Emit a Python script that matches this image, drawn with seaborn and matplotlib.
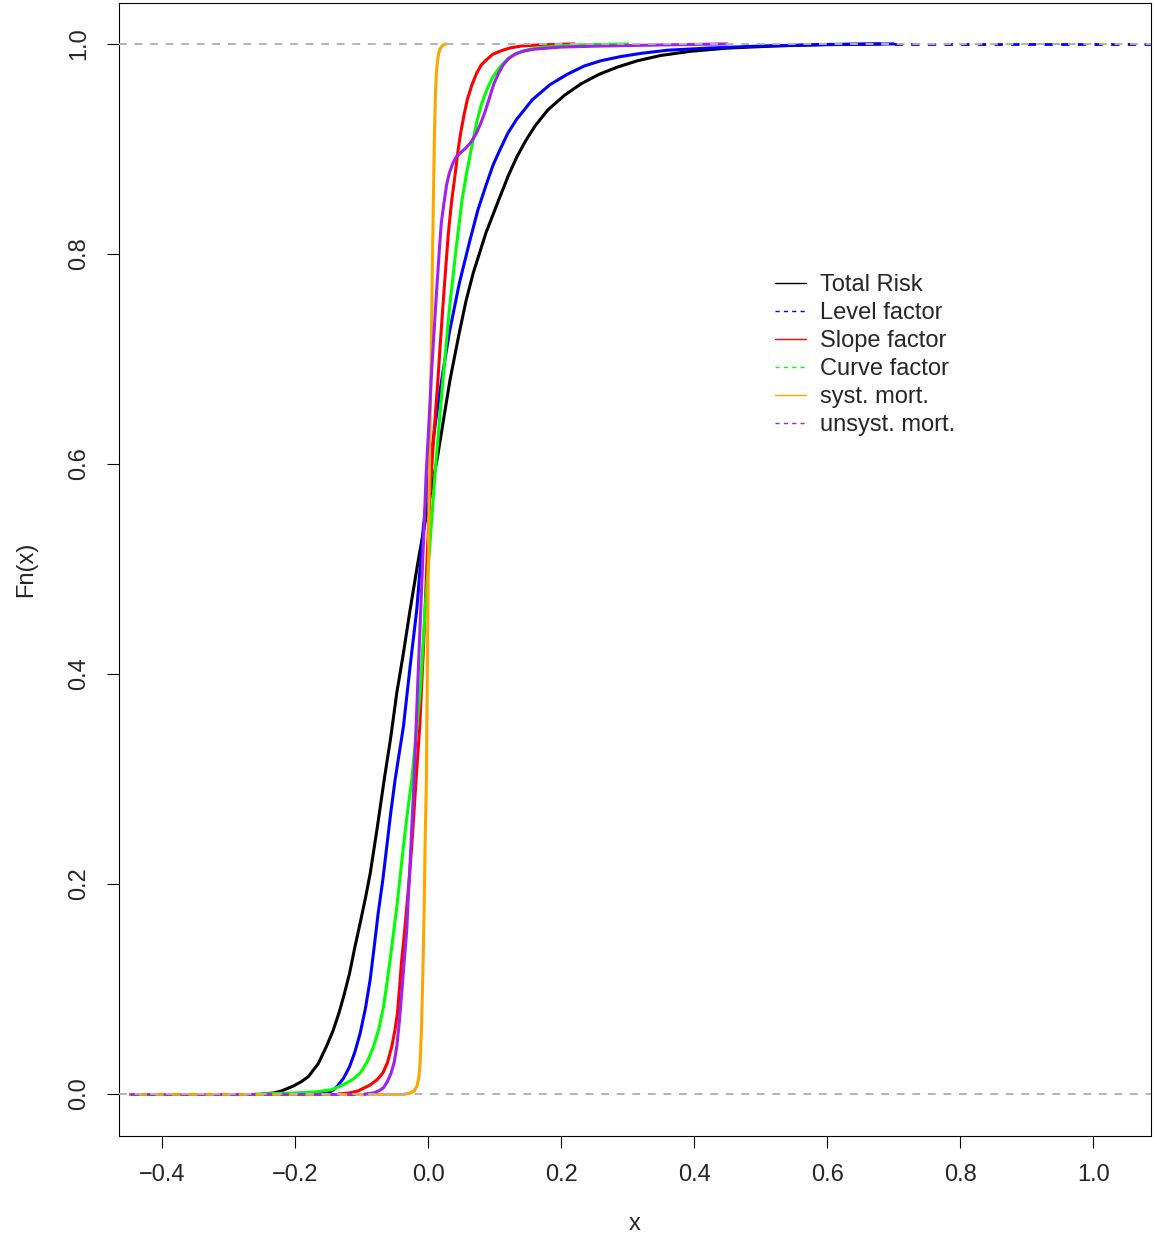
import numpy as np
import pandas as pd
import seaborn as sns
import matplotlib.pyplot as plt
from matplotlib.lines import Line2D

series = ["Total Risk", "Level factor", "Slope factor", "Curve factor",
          "syst. mort.", "unsyst. mort."]

total_F = [0, 0, 0.001, 0.003, 0.0076, 0.012, 0.0165, 0.029, 0.045, 0.06, 0.077,
           0.095, 0.115, 0.14, 0.163, 0.187, 0.21, 0.251, 0.299, 0.34, 0.382, 0.42,
           0.461, 0.509, 0.553, 0.604, 0.645, 0.68, 0.725, 0.755, 0.782, 0.82,
           0.851, 0.875, 0.893, 0.908, 0.922, 0.937, 0.951, 0.962, 0.971, 0.978,
           0.984, 0.989, 0.993, 0.996, 0.998, 0.9995, 1]
total_x = [-0.448, -0.25, -0.232, -0.220, -0.2025, -0.190, -0.180, -0.165, -0.153,
           -0.143, -0.134, -0.126, -0.118, -0.110, -0.102, -0.094, -0.087, -0.077,
           -0.066, -0.056, -0.047, -0.037, -0.027, -0.0145, -0.002, 0.0135, 0.024,
           0.033, 0.047, 0.057, 0.068, 0.087, 0.106, 0.121, 0.134, 0.147, 0.161,
           0.180, 0.205, 0.230, 0.257, 0.285, 0.315, 0.350, 0.395, 0.45, 0.52, 0.6,
           0.68]

level_F = [0, 0, 0.001, 0.004, 0.007, 0.015, 0.026, 0.04, 0.058, 0.082, 0.109,
           0.14, 0.172, 0.204, 0.236, 0.268, 0.299, 0.35, 0.407, 0.461, 0.50, 0.54,
           0.6, 0.655, 0.69, 0.725, 0.772, 0.813, 0.842, 0.867, 0.885, 0.899,
           0.915, 0.928, 0.947, 0.961, 0.971, 0.979, 0.984, 0.988, 0.991, 0.994,
           0.996, 0.998, 0.9993, 1, 1]
level_x = [-0.448, -0.165, -0.150, -0.142, -0.137, -0.127, -0.118, -0.110, -0.102,
           -0.094, -0.087, -0.081, -0.075, -0.068, -0.062, -0.056, -0.0496, -0.037,
           -0.027, -0.017, -0.012, -0.007, 0.003, 0.0145, 0.023, 0.032, 0.047,
           0.063, 0.075, 0.088, 0.098, 0.108, 0.12, 0.133, 0.157, 0.183, 0.209,
           0.235, 0.26, 0.29, 0.32, 0.36, 0.42, 0.5, 0.6, 0.7, 1.09]

slope_F = [0, 0, 0.001, 0.003, 0.0086, 0.014, 0.020, 0.03, 0.045, 0.06, 0.077,
           0.10, 0.125, 0.15, 0.178, 0.207, 0.236, 0.299, 0.35, 0.43, 0.509, 0.572,
           0.63, 0.677, 0.72, 0.756, 0.79, 0.82, 0.851, 0.877, 0.898, 0.915, 0.932,
           0.947, 0.961, 0.972, 0.98, 0.985, 0.990, 0.993, 0.996, 0.998, 0.999, 1]
slope_x = [-0.448, -0.135, -0.118, -0.105, -0.087, -0.076, -0.068, -0.061, -0.0546,
           -0.050, -0.046, -0.043, -0.040, -0.036, -0.032, -0.028, -0.0245, -0.018,
           -0.0125, -0.0065, -0.0015, 0.003, 0.009, 0.0145, 0.019, 0.023, 0.027,
           0.0306, 0.0356, 0.041, 0.045, 0.049, 0.054, 0.059, 0.066, 0.073, 0.08,
           0.088, 0.097, 0.108, 0.122, 0.14, 0.165, 0.22]

curve_F = [0, 0, 0.001, 0.002, 0.004, 0.009, 0.014, 0.020, 0.03, 0.045, 0.062,
           0.083, 0.105, 0.128, 0.153, 0.178, 0.207, 0.236, 0.268, 0.299, 0.382,
           0.461, 0.525, 0.591, 0.64, 0.677, 0.747, 0.804, 0.83, 0.851, 0.877, 0.9,
           0.925, 0.942, 0.956, 0.968, 0.978, 0.986, 0.991, 0.995, 0.997, 0.999, 1]
curve_x = [-0.448, -0.26, -0.2, -0.17, -0.145, -0.127, -0.113, -0.102, -0.092,
           -0.082, -0.074, -0.067, -0.062, -0.057, -0.052, -0.047, -0.042, -0.037,
           -0.031, -0.0245, -0.012, -0.0045, 0.003, 0.0105, 0.017, 0.022, 0.032,
           0.042, 0.047, 0.051, 0.058, 0.065, 0.073, 0.08, 0.088, 0.097, 0.108,
           0.12, 0.133, 0.153, 0.175, 0.22, 0.3]

syst_F = [0, 0, 0.0007, 0.003, 0.007, 0.015, 0.029, 0.06, 0.109, 0.17, 0.236,
          0.299, 0.445, 0.572, 0.693, 0.788, 0.851, 0.909, 0.95, 0.972, 0.985,
          0.991, 0.995, 0.998, 0.9995, 1]
syst_x = [-0.448, -0.036, -0.028, -0.021, -0.017, -0.014, -0.012, -0.010, -0.008,
          -0.006, -0.0045, -0.0025, -0.0005, 0.0015, 0.0045, 0.0065, 0.008, 0.0095,
          0.011, 0.0125, 0.0145, 0.016, 0.018, 0.021, 0.024, 0.028]

unsyst_F = [0, 0, 0.001, 0.003, 0.006, 0.012, 0.020, 0.03, 0.045, 0.07, 0.093,
            0.125, 0.156, 0.19, 0.22, 0.26, 0.299, 0.382, 0.461, 0.540, 0.588,
            0.629, 0.69, 0.756, 0.804, 0.83, 0.851, 0.866, 0.877, 0.886, 0.893,
            0.897, 0.901, 0.906, 0.914, 0.924, 0.936, 0.95, 0.962, 0.972, 0.98,
            0.986, 0.99, 0.993, 0.995, 0.997, 0.998, 0.999, 1]
unsyst_x = [-0.448, -0.095, -0.082, -0.074, -0.067, -0.061, -0.0555, -0.051,
            -0.047, -0.043, -0.040, -0.036, -0.032, -0.0295, -0.027, -0.024, -0.021,
            -0.016, -0.011, -0.006, -0.003, 0.0005, 0.0055, 0.012, 0.017, 0.020,
            0.0245, 0.028, 0.032, 0.037, 0.043, 0.050, 0.057, 0.064, 0.072, 0.079,
            0.086, 0.093, 0.099, 0.106, 0.113, 0.121, 0.13, 0.142, 0.16, 0.2, 0.26,
            0.35, 0.45]

xs = [total_x, level_x, slope_x, curve_x, syst_x, unsyst_x]
Fs = [total_F, level_F, slope_F, curve_F, syst_F, unsyst_F]
colors = ["black", "#0000FF", "#FF0000", "#00FF00", "#FFA500", "#A020F0"]
dashed = [False, True, False, True, False, True]

sns.set_style("ticks")
plt.rcParams["font.family"] = ["Liberation Sans", "DejaVu Sans"]
plt.rcParams["font.size"] = 17

fig = plt.figure(figsize=(11.54, 12.36), dpi=100)
ax = fig.add_axes([0.1031, 0.0809, 0.8943, 0.9167])

for i in range(len(series)):
    df = pd.DataFrame({"x": xs[i], "Fn": Fs[i]})
    ls = (0, (3, 3)) if dashed[i] else "-"
    # flat tail along zero before the rise
    sns.lineplot(data=df.iloc[:2], x="x", y="Fn", color=colors[i], lw=2,
                 linestyle=ls, sort=False, estimator=None, ax=ax)
    body = df.iloc[1:] if i != 1 else df.iloc[1:-1]
    sns.lineplot(data=body, x="x", y="Fn", color=colors[i], lw=2.2,
                 sort=False, estimator=None, ax=ax)
    if i == 1:
        # level factor runs on along 1 to the right edge
        sns.lineplot(data=df.iloc[-2:], x="x", y="Fn", color=colors[i], lw=2,
                     linestyle=ls, sort=False, estimator=None, ax=ax)

for h in [0, 1]:
    ax.axhline(h, color="#B3B3B3", lw=1.4, linestyle=(0, (4, 4)), zorder=5)

ticks_x = np.arange(-0.4, 1.01, 0.2)
ticks_y = np.arange(0, 1.01, 0.2)
ax.set_xlim(-0.4647, 1.087)
ax.set_ylim(-0.04, 1.039)
ax.set_xticks(ticks_x)
ax.set_yticks(ticks_y)
ax.set_xticklabels([f"{v:.1f}".replace("-", "\u2212") for v in ticks_x])
ax.set_yticklabels([f"{v:.1f}" for v in ticks_y], rotation=90, va="center")
ax.tick_params(axis="both", length=8.5, width=0.8, direction="out", color="black")
ax.tick_params(axis="x", pad=12)
ax.tick_params(axis="y", pad=12.5)
for s in ax.spines.values():
    s.set_color("black")
    s.set_linewidth(0.8)
ax.set_xlabel("x", labelpad=19)
ax.set_ylabel("Fn(x)", labelpad=22)

handles = [Line2D([0], [0], color=c, lw=1,
                  linestyle=(0, (3, 3)) if d else "-")
           for c, d in zip(colors, dashed)]
ax.legend(handles, series, loc="upper left", bbox_to_anchor=(0.636, 0.7605),
          frameon=False, borderpad=0, borderaxespad=0, handlelength=1.3,
          handletextpad=0.6, labelspacing=0.25, fontsize=17)

fig.savefig("out.png", dpi=100)
